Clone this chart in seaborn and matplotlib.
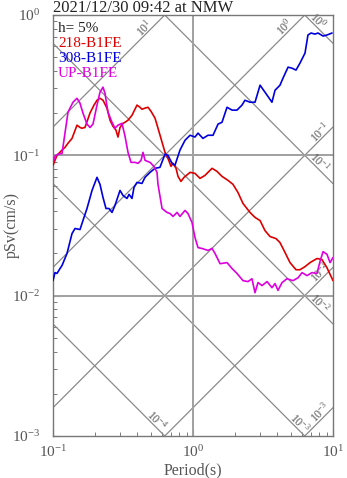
import numpy as np
import pandas as pd
import matplotlib
matplotlib.use("Agg")
import matplotlib.pyplot as plt
import seaborn as sns

# ---------------- data ----------------
red_period = [0.100, 0.1068, 0.1160, 0.1218, 0.1280, 0.1367, 0.1484, 0.1559, 0.1611, 0.1692,
              0.1837, 0.1963, 0.2062, 0.2166, 0.2276, 0.2430, 0.2553, 0.2683, 0.2818, 0.2912,
              0.3010, 0.3162, 0.3268, 0.3434, 0.3667, 0.3981, 0.4182, 0.4322, 0.4541, 0.4770,
              0.5012, 0.5355, 0.5623, 0.6012, 0.6310, 0.6624, 0.6966, 0.7194, 0.7568, 0.7816,
              0.8204, 0.8630, 0.9528, 1.033, 1.122, 1.219, 1.279, 1.368, 1.483, 1.611,
              1.778, 1.931, 2.094, 2.275, 2.553, 2.773, 3.013, 3.266, 3.548, 3.917,
              4.181, 4.467, 4.932, 5.443, 5.808, 6.310, 6.855, 7.691, 8.337, 9.057, 10.0]
red_sv = [0.0849, 0.100, 0.109, 0.114, 0.122, 0.132, 0.164, 0.158, 0.156, 0.158,
          0.200, 0.228, 0.247, 0.255, 0.247, 0.217, 0.178, 0.161, 0.151, 0.135,
          0.158, 0.169, 0.172, 0.178, 0.193, 0.228, 0.220, 0.213, 0.217, 0.220,
          0.206, 0.184, 0.156, 0.124, 0.105, 0.0952, 0.0834, 0.0877, 0.0808, 0.0708,
          0.0652, 0.0697, 0.0756, 0.0744, 0.0685, 0.0720, 0.0756, 0.0808, 0.0769, 0.0708,
          0.0663, 0.0621, 0.0544, 0.0454, 0.0392, 0.0361, 0.0343, 0.0291, 0.0264, 0.0255,
          0.0239, 0.0210, 0.0172, 0.0153, 0.0153, 0.0161, 0.0172, 0.0184, 0.0181, 0.0158, 0.0128]

blue_period = [0.100, 0.1033, 0.1068, 0.1122, 0.1160, 0.1259, 0.1367, 0.1436, 0.1559, 0.1637,
               0.1749, 0.1900, 0.2062, 0.2166, 0.2276, 0.2390, 0.2512, 0.2638, 0.2772, 0.3010,
               0.3162, 0.3378, 0.3491, 0.3667, 0.3790, 0.3981, 0.4322, 0.4541, 0.4932, 0.5355,
               0.5808, 0.6310, 0.6624, 0.7079, 0.7430, 0.8072, 0.8770, 0.9528, 1.033, 1.086,
               1.178, 1.279, 1.390, 1.510, 1.611, 1.750, 1.901, 2.061, 2.239, 2.350,
               2.553, 2.773, 3.013, 3.266, 3.664, 3.855, 4.181, 4.395, 4.775, 5.093,
               5.443, 5.808, 6.310, 6.624, 6.966, 7.430, 7.816, 8.492, 9.057, 9.840]
blue_sv = [0.0128, 0.0146, 0.0144, 0.0156, 0.0164, 0.0200, 0.0277, 0.0301, 0.0296, 0.0343,
           0.0418, 0.0562, 0.0697, 0.0621, 0.0501, 0.0418, 0.0418, 0.0392, 0.0440, 0.0562,
           0.0518, 0.0493, 0.0527, 0.0493, 0.0591, 0.0641, 0.0631, 0.0697, 0.0756, 0.0808,
           0.0821, 0.102, 0.100, 0.0877, 0.0849, 0.109, 0.128, 0.139, 0.135, 0.144,
           0.132, 0.139, 0.139, 0.167, 0.172, 0.220, 0.210, 0.210, 0.228, 0.247,
           0.239, 0.239, 0.316, 0.282, 0.239, 0.291, 0.316, 0.355, 0.425, 0.418,
           0.405, 0.454, 0.535, 0.720, 0.744, 0.731, 0.744, 0.708, 0.720, 0.744]

up_period = [0.100, 0.1033, 0.1086, 0.1160, 0.1218, 0.1280, 0.1389, 0.1484, 0.1559, 0.1637,
             0.1749, 0.1837, 0.1931, 0.2062, 0.2166, 0.2276, 0.2351, 0.2470, 0.2638, 0.2772,
             0.2912, 0.3110, 0.3268, 0.3434, 0.3607, 0.3853, 0.4047, 0.4254, 0.4394, 0.4541,
             0.4932, 0.5260, 0.5534, 0.5623, 0.6012, 0.6518, 0.6849, 0.7194, 0.7691, 0.8072,
             0.8770, 0.9204, 0.9840, 1.033, 1.086, 1.159, 1.279, 1.368, 1.436, 1.560,
             1.750, 1.901, 2.061, 2.275, 2.472, 2.636, 2.773, 2.911, 3.112, 3.381,
             3.664, 3.855, 4.046, 4.325, 4.688, 5.176, 5.623, 6.012, 6.518, 7.079,
             7.691, 8.072, 8.492, 9.057, 9.528, 10.0]
up_sv = [0.0891, 0.0984, 0.102, 0.103, 0.144, 0.203, 0.239, 0.255, 0.235, 0.200,
         0.167, 0.158, 0.167, 0.228, 0.282, 0.306, 0.277, 0.203, 0.172, 0.156,
         0.164, 0.169, 0.137, 0.105, 0.0891, 0.0891, 0.0877, 0.0921, 0.105, 0.0921,
         0.0891, 0.0834, 0.0756, 0.0621, 0.0418, 0.0392, 0.0385, 0.0367, 0.0392, 0.0367,
         0.0405, 0.0385, 0.0332, 0.0260, 0.0220, 0.0217, 0.0210, 0.0217, 0.0200, 0.0169,
         0.0172, 0.0156, 0.0144, 0.0128, 0.0126, 0.0132, 0.0105, 0.0124, 0.0118, 0.0126,
         0.0114, 0.0122, 0.0109, 0.0124, 0.0132, 0.0128, 0.0134, 0.0146, 0.0139, 0.0146,
         0.0144, 0.0175, 0.0206, 0.0197, 0.0172, 0.0187]

series_names = ["218-B1FE", "308-B1FE", "UP-B1FE"]
series_colors = ["#dd0000", "#0000dd", "#dd00dd"]

# tripartite reference lines
accel_levels = [1e1, 1e0, 1e-1, 1e-2, 1e-3]        # pSa lines, slope +1
accel_label_period = [0.447, 4.54, 8.07, 8.07, 8.07]
disp_levels = [1e0, 1e-1, 1e-2, 1e-3, 1e-4]          # Sd lines, slope -1
disp_label_period = [7.8, 8.07, 8.07, 5.81, 0.553]

title = "2021/12/30 09:42 at NMW"
damping_text = "h= 5%"

# ---------------- style ----------------
sns.set_style("ticks")
plt.rcParams["font.family"] = ["Liberation Serif", "DejaVu Serif"]
plt.rcParams["mathtext.fontset"] = "custom"
plt.rcParams["mathtext.rm"] = "Liberation Serif"
plt.rcParams["mathtext.it"] = "Liberation Serif:italic"
plt.rcParams["mathtext.bf"] = "Liberation Serif:bold"

W, H = 347, 478
fig = plt.figure(figsize=(W / 100, H / 100), dpi=100)
ax = fig.add_axes([53 / W, 1 - 436 / H, 280 / W, 421 / H])

ax.set_xscale("log")
ax.set_yscale("log")
ax.set_xlim(0.1, 10)
ax.set_ylim(1e-3, 1)

gray_line = "#8a8a8a"
T_ends = np.array([0.1, 10.0])
for a in accel_levels:
    ax.plot(T_ends, a * T_ends / (2 * np.pi), color=gray_line, lw=0.9, zorder=1)
for d in disp_levels:
    ax.plot(T_ends, 2 * np.pi * d / T_ends, color=gray_line, lw=0.9, zorder=1)

def exp_label(v):
    e = int(round(np.log10(v)))
    return r"$\mathdefault{10^{%d}}$" % e

for a, tl in zip(accel_levels, accel_label_period):
    sv = a * tl / (2 * np.pi) * 1.14
    ax.text(tl, sv, exp_label(a), rotation=45, rotation_mode="anchor",
            ha="center", va="center", fontsize=8.5, color="#555555", zorder=2)
for d, tl in zip(disp_levels, disp_label_period):
    sv = 2 * np.pi * d / tl * 1.14
    ax.text(tl, sv, exp_label(d), rotation=-45, rotation_mode="anchor",
            ha="center", va="center", fontsize=8.5, color="#555555", zorder=2)

for yv in [0.1, 0.01]:
    ax.axhline(yv, color="#a0a0a0", lw=1.4, zorder=1)
ax.axvline(1.0, color="#a0a0a0", lw=1.4, zorder=1)

frames = []
for name, T, sv in zip(series_names, [red_period, blue_period, up_period], [red_sv, blue_sv, up_sv]):
    frames.append(pd.DataFrame({"Period": T, "pSv": sv, "comp": name}))
df = pd.concat(frames, ignore_index=True)
sns.lineplot(data=df, x="Period", y="pSv", hue="comp", hue_order=series_names,
             palette=dict(zip(series_names, series_colors)), estimator=None,
             sort=False, legend=False, lw=1.2, ax=ax, zorder=3)

ax.set_xlim(0.1, 10)
ax.set_ylim(1e-3, 1)

ax.text(0.018, 0.969, damping_text, transform=ax.transAxes, fontsize=11,
        color="#222222", va="center", ha="left")
for i, (name, c) in enumerate(zip(series_names, series_colors)):
    ax.text(0.018, [0.933, 0.897, 0.861][i], name, transform=ax.transAxes,
            fontsize=11, color=c, va="center", ha="left")

fig.text(53 / W, 1 - 8 / H, title, fontsize=12, color="#222222", ha="left", va="center")

ax.set_xlabel("Period(s)", fontsize=11.5, color="#555555")
ax.set_ylabel("pSv(cm/s)", fontsize=11.5, color="#555555")
ax.xaxis.label.set_va("center")
ax.yaxis.label.set_va("center")
ax.xaxis.set_label_coords(0.5, (436 - 470) / 421)
ax.yaxis.set_label_coords((12 - 53) / 280, 0.5)

for s in ax.spines.values():
    s.set_color("#777777")
    s.set_linewidth(1.0)
ax.tick_params(which="both", direction="in", colors="#666666", labelcolor="#555555",
               labelsize=11, top=False, right=False)
ax.tick_params(which="major", length=5)
ax.tick_params(which="minor", length=3)
ax.tick_params(axis="y", which="major", pad=9)
ax.tick_params(axis="x", which="major", pad=6)
ax.set_xticks([0.1, 1, 10])
ax.set_yticks([1e-3, 1e-2, 1e-1, 1])

fig.savefig("out.png", dpi=100)
